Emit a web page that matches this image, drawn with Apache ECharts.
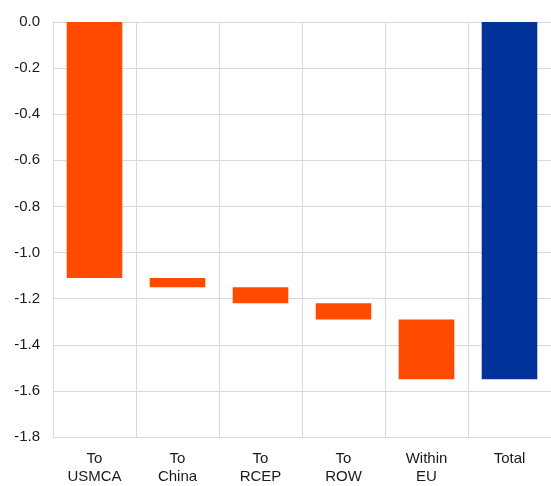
<!DOCTYPE html>
<html>
<head>
<meta charset="utf-8">
<script src="https://cdn.jsdelivr.net/npm/echarts@6/dist/echarts.min.js"></script>
<style>
  html, body { margin: 0; padding: 0; background: #fff; }
  #chart { width: 551px; height: 486px; }
</style>
</head>
<body>
<div id="chart"></div>
<script>
// Contributions to the total change, by destination
const categories = ['To\nUSMCA', 'To\nChina', 'To\nRCEP', 'To\nROW', 'Within\nEU', 'Total'];
const contributions = [-1.11, -0.04, -0.07, -0.07, -0.26];
const total = -1.55;
const yTicks = { min: -1.8, max: 0, interval: 0.2 };

// Invisible base bars: running level at the top of each step
const base = [];
let level = 0;
contributions.forEach(v => { base.push(level); level += v; });
base.push(0);

const steps = contributions.map(v => ({ value: v, itemStyle: { color: '#FF4B00' } }));
steps.push({ value: total, itemStyle: { color: '#003299' } });

const chart = echarts.init(document.getElementById('chart'));
chart.setOption({
  animation: false,
  textStyle: { fontFamily: 'Liberation Sans, Arial, sans-serif' },
  grid: { left: 53, width: 501, top: 22, height: 420, containLabel: false },
  xAxis: {
    type: 'category',
    data: categories,
    position: 'bottom',
    axisLine: { onZero: false, lineStyle: { color: '#d9d9d9', width: 1 } },
    axisTick: { show: false },
    splitLine: { show: true, lineStyle: { color: '#d9d9d9', width: 1 } },
    axisLabel: { color: '#1a1a1a', fontSize: 15, lineHeight: 18, margin: 13 }
  },
  yAxis: {
    type: 'value',
    min: yTicks.min,
    max: yTicks.max,
    interval: yTicks.interval,
    axisLine: { show: true, lineStyle: { color: '#d9d9d9', width: 1 } },
    axisTick: { show: false },
    splitLine: { show: true, lineStyle: { color: '#d9d9d9', width: 1 } },
    axisLabel: {
      color: '#1a1a1a',
      fontSize: 15,
      margin: 13,
      formatter: v => v.toFixed(1)
    }
  },
  series: [
    {
      type: 'bar',
      stack: 'w',
      data: base,
      itemStyle: { color: 'transparent' },
      barCategoryGap: '33%',
      silent: true
    },
    {
      type: 'bar',
      stack: 'w',
      data: steps,
      barCategoryGap: '33%'
    }
  ]
});
</script>
</body>
</html>
